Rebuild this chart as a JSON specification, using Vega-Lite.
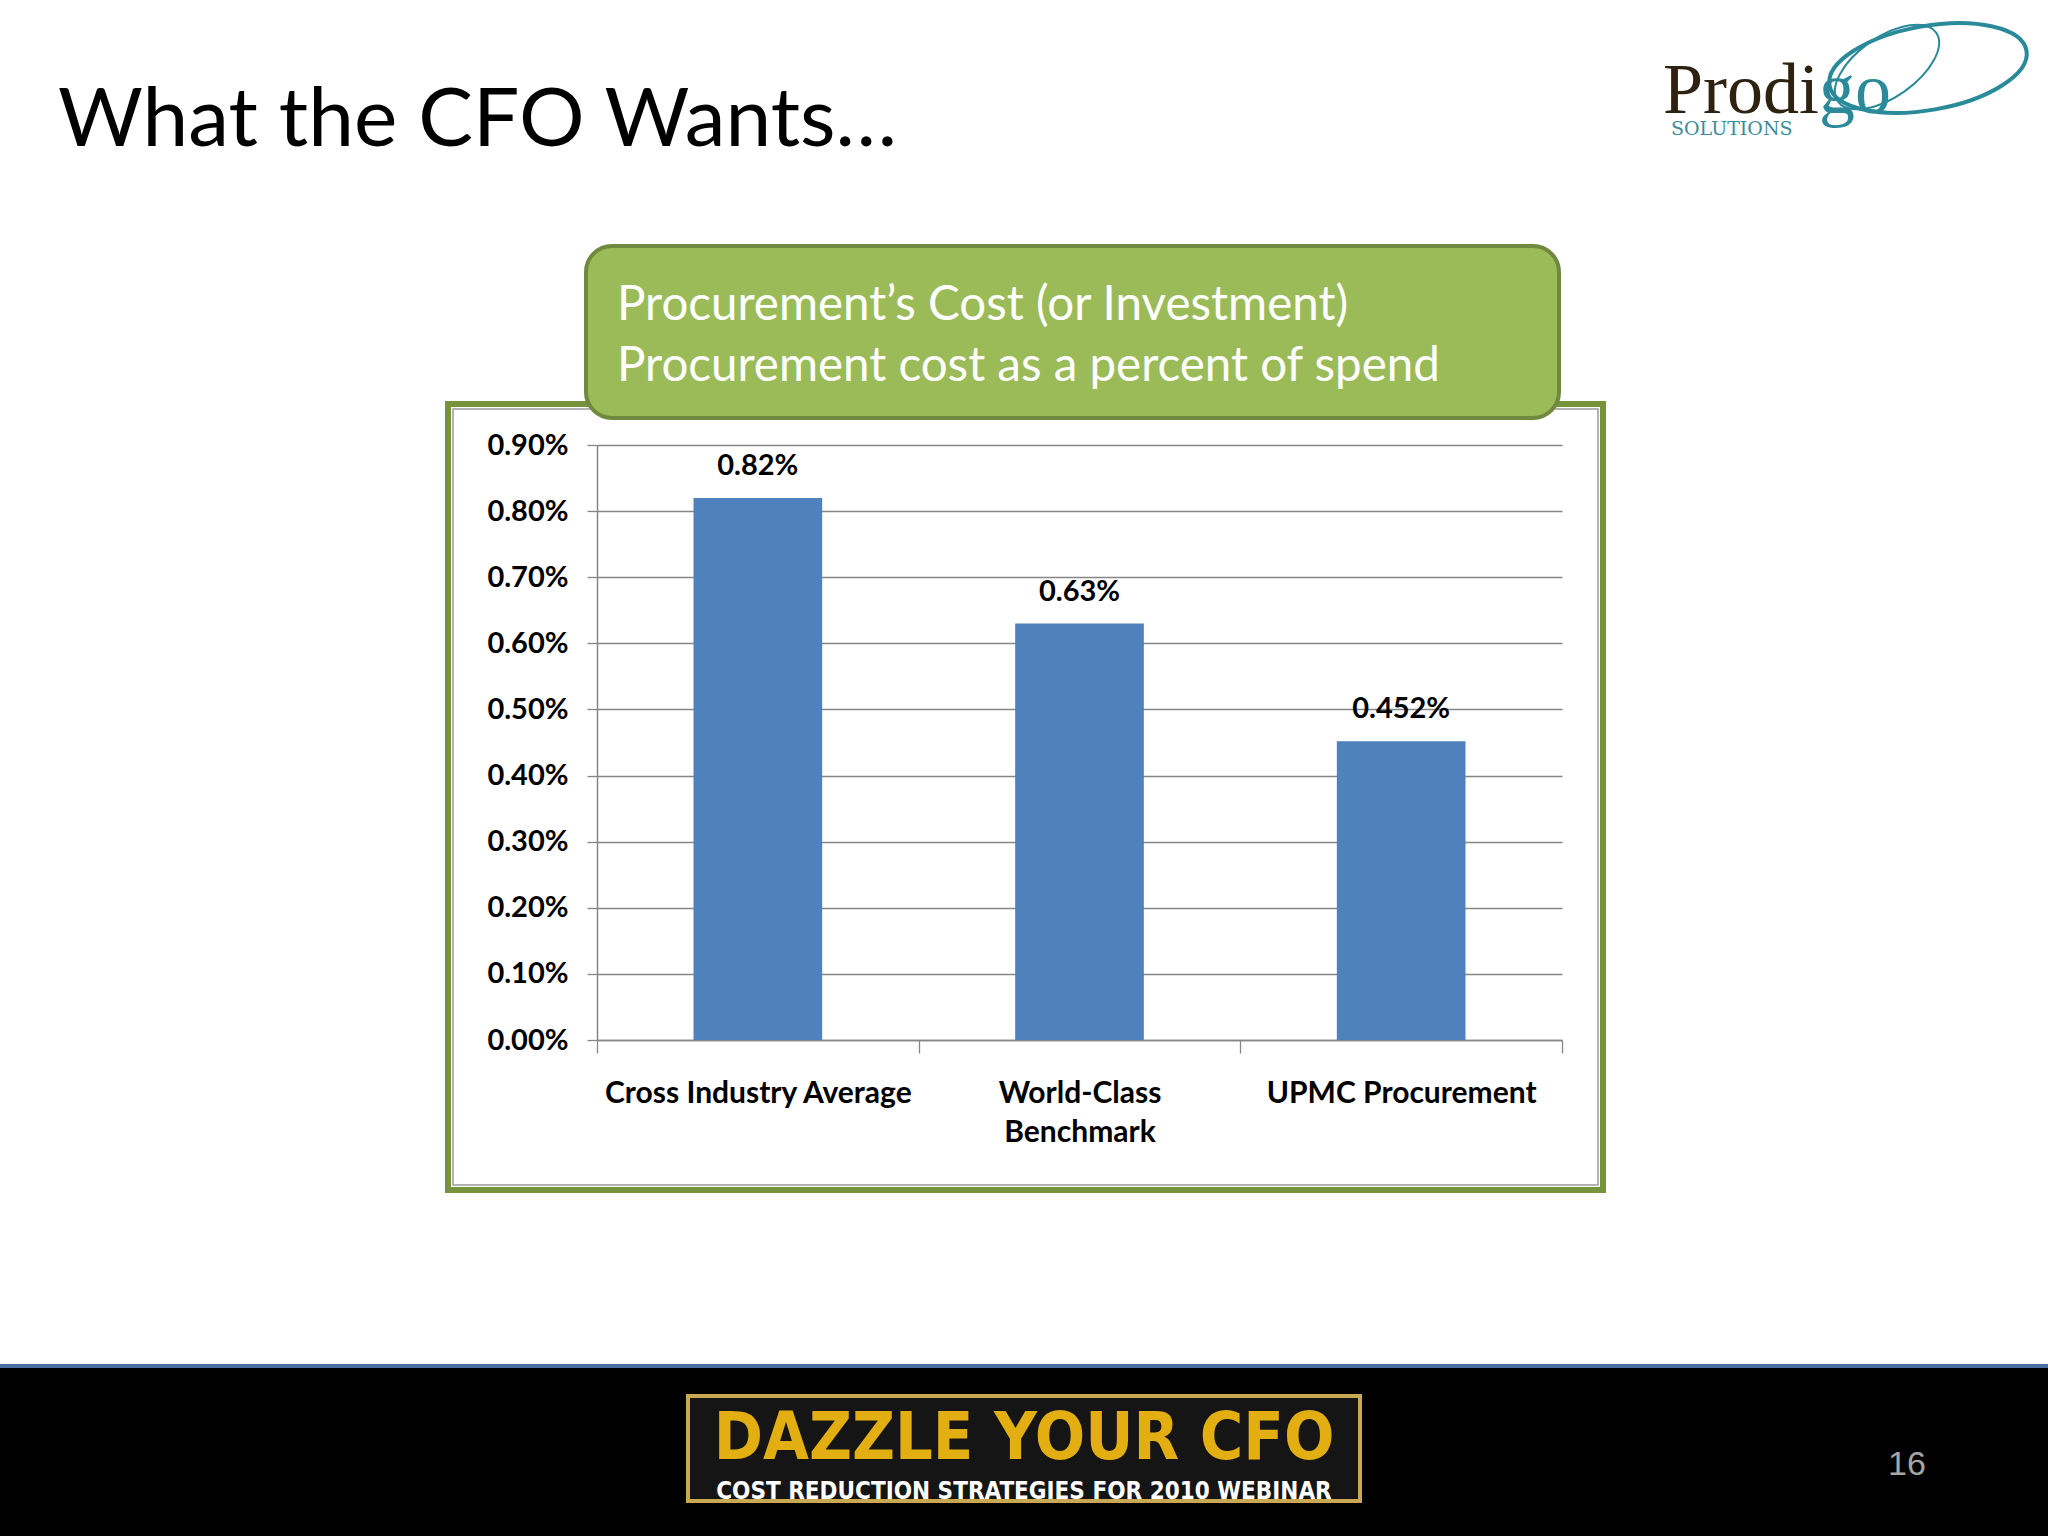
{
  "$schema": "https://vega.github.io/schema/vega-lite/v6.json",
  "autosize": "none",
  "width": 965,
  "height": 595,
  "padding": {"left": 597, "top": 445, "right": 486, "bottom": 496},
  "background": "white",
  "title": {
    "text": "What the CFO Wants…",
    "anchor": "start",
    "frame": "group",
    "font": "Lato",
    "fontSize": 82,
    "fontWeight": "normal",
    "color": "black",
    "baseline": "alphabetic",
    "dx": -539,
    "dy": 233,
    "offset": 20
  },
  "data": {
    "values": [
      {"category": "Cross Industry Average", "value": 0.0082},
      {"category": "World-Class Benchmark", "value": 0.0063},
      {"category": "UPMC Procurement", "value": 0.00452}
    ]
  },
  "layer": [
    {
      "data": {"values": [{}]},
      "mark": {"type": "rect", "fill": null, "stroke": "#77933C", "strokeWidth": 6},
      "encoding": {"x": {"value": -149}, "x2": {"value": 1006}, "y": {"value": -41}, "y2": {"value": 745}}
    },
    {
      "data": {"values": [{}]},
      "mark": {"type": "rect", "fill": null, "stroke": "#9A9A9A", "strokeWidth": 1.5},
      "encoding": {"x": {"value": -144}, "x2": {"value": 1001}, "y": {"value": -36}, "y2": {"value": 740}}
    },
    {
      "data": {"values": [{}]},
      "mark": {"type": "rect", "fill": "#9BBB59", "stroke": "#71893F", "strokeWidth": 4, "cornerRadius": 26},
      "encoding": {"x": {"value": -11}, "x2": {"value": 962}, "y": {"value": -199}, "y2": {"value": -27}}
    },
    {
      "data": {"values": [{}]},
      "mark": {"type": "text", "text": ["Procurement’s Cost (or Investment)", "Procurement cost as a percent of spend"], "font": "Lato", "fontSize": 47.5, "color": "white", "align": "left", "baseline": "alphabetic", "lineHeight": 61},
      "encoding": {"x": {"value": 20}, "y": {"value": -125}}
    },
    {
      "mark": {"type": "bar", "color": "#4F81BD", "width": {"band": 0.4}},
      "encoding": {
        "x": {
          "field": "category",
          "type": "nominal",
          "sort": null,
          "scale": {"paddingInner": 0, "paddingOuter": 0},
          "axis": {
            "title": null,
            "labelAngle": 0,
            "tickBand": "extent",
            "tickSize": 13,
            "labelPadding": 25,
            "labelLineHeight": 39,
            "labelBaseline": "top",
            "labelLimit": 0,
            "labelFontSize": 30,
            "grid": false,
            "labelExpr": "datum.value == 'World-Class Benchmark' ? ['World-Class', 'Benchmark'] : datum.value"
          }
        },
        "y": {
          "field": "value",
          "type": "quantitative",
          "scale": {"domain": [0, 0.009], "nice": false},
          "axis": {
            "title": null,
            "values": [0, 0.001, 0.002, 0.003, 0.004, 0.005, 0.006, 0.007, 0.008, 0.009],
            "format": ".2%",
            "grid": true,
            "tickSize": 10,
            "labelPadding": 19,
            "labelFontSize": 29
          }
        }
      }
    },
    {
      "mark": {"type": "text", "font": "Lato", "fontSize": 29, "fontWeight": "bold", "color": "black", "baseline": "middle", "dy": -32},
      "encoding": {
        "x": {"field": "category", "type": "nominal", "sort": null},
        "y": {"field": "value", "type": "quantitative"},
        "text": {"field": "value", "type": "quantitative", "format": ".3~%"}
      }
    },
    {
      "data": {"values": [{}]},
      "mark": {"type": "rect", "fill": "black", "stroke": "#4A6FA5", "strokeWidth": 4},
      "encoding": {"x": {"value": -600}, "x2": {"value": 1455}, "y": {"value": 921}, "y2": {"value": 1095}}
    },
    {
      "data": {"values": [{}]},
      "mark": {"type": "rect", "fill": "#151515", "stroke": "#C8A951", "strokeWidth": 4},
      "encoding": {"x": {"value": 91}, "x2": {"value": 763}, "y": {"value": 951}, "y2": {"value": 1056}}
    },
    {
      "data": {"values": [{}]},
      "mark": {"type": "text", "text": "DAZZLE YOUR CFO", "font": "DejaVu Sans Condensed", "fontWeight": "bold", "fontSize": 66, "color": "#E3AE12", "align": "center", "baseline": "alphabetic"},
      "encoding": {"x": {"value": 427}, "y": {"value": 1014}}
    },
    {
      "data": {"values": [{}]},
      "mark": {"type": "text", "text": "COST REDUCTION STRATEGIES FOR 2010 WEBINAR", "font": "DejaVu Sans Condensed", "fontWeight": "bold", "fontSize": 24, "color": "white", "align": "center", "baseline": "alphabetic"},
      "encoding": {"x": {"value": 427}, "y": {"value": 1054}}
    },
    {
      "data": {"values": [{}]},
      "mark": {"type": "text", "text": "16", "font": "Liberation Sans", "fontSize": 34, "color": "#A6A6A6", "align": "center", "baseline": "middle"},
      "encoding": {"x": {"value": 1310}, "y": {"value": 1020}}
    },
    {
      "data": {"values": [{}]},
      "mark": {"type": "point", "shape": "M -1 0 A 1 0.42 0 1 0 1 0 A 1 0.42 0 1 0 -1 0 Z", "filled": false, "stroke": "#2A8A99", "strokeWidth": 4, "angle": -10, "size": 40000, "opacity": 1},
      "encoding": {"x": {"value": 1331}, "y": {"value": -377}}
    },
    {
      "data": {"values": [{}]},
      "mark": {"type": "point", "shape": "M -1 0 A 1 0.5 0 1 0 1 0 A 1 0.5 0 1 0 -1 0 Z", "filled": false, "stroke": "#2A8A99", "strokeWidth": 2, "angle": -35, "size": 14400, "opacity": 1},
      "encoding": {"x": {"value": 1290}, "y": {"value": -378}}
    },
    {
      "data": {"values": [{}]},
      "mark": {"type": "text", "text": "Prodi", "font": "Liberation Serif", "fontSize": 72, "color": "#2E2210", "align": "left", "baseline": "alphabetic"},
      "encoding": {"x": {"value": 1066}, "y": {"value": -332}}
    },
    {
      "data": {"values": [{}]},
      "mark": {"type": "text", "text": "go", "font": "Liberation Serif", "fontSize": 72, "color": "#2A8A99", "align": "left", "baseline": "alphabetic"},
      "encoding": {"x": {"value": 1222}, "y": {"value": -332}}
    },
    {
      "data": {"values": [{}]},
      "mark": {"type": "text", "text": "SOLUTIONS", "font": "DejaVu Serif", "fontSize": 19, "color": "#3A8C9A", "align": "left", "baseline": "alphabetic"},
      "encoding": {"x": {"value": 1074}, "y": {"value": -310}}
    }
  ],
  "config": {
    "view": {"stroke": null},
    "axis": {
      "labelFont": "Lato",
      "labelFontSize": 25,
      "labelFontWeight": "bold",
      "labelColor": "black",
      "gridColor": "#868686",
      "gridWidth": 1.3,
      "domainColor": "#868686",
      "domainWidth": 1.5,
      "tickColor": "#868686",
      "tickWidth": 1.3
    }
  }
}
